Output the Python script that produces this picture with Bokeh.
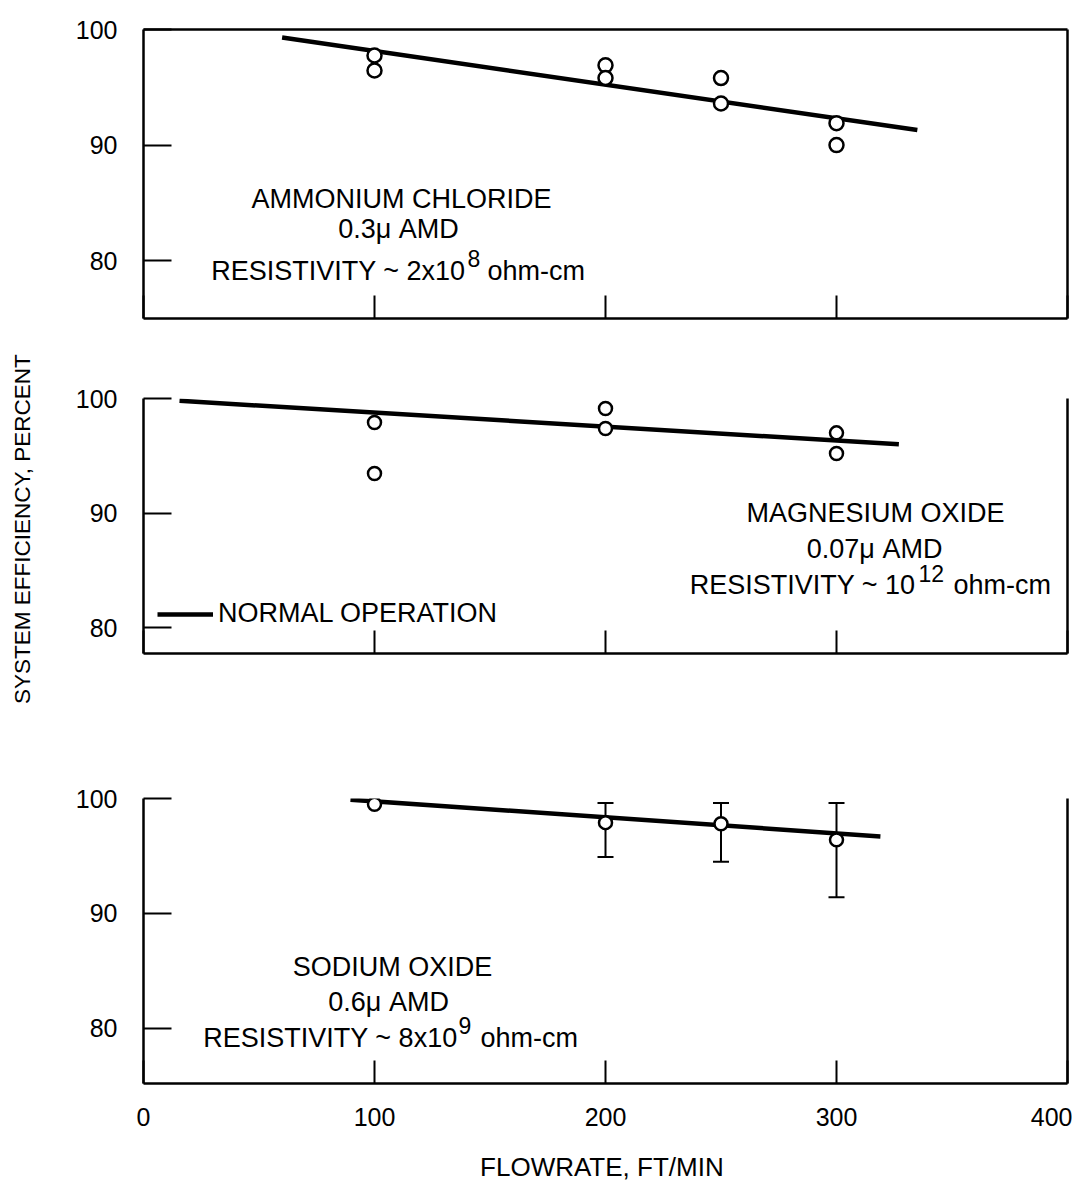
from bokeh.plotting import figure
from bokeh.models import Range1d, FixedTicker, LinearAxis, Label, Whisker, TeeHead, ColumnDataSource, Legend, LegendItem
from bokeh.layouts import column
from bokeh.embed import file_html
from bokeh.resources import INLINE

FONT = "Liberation Sans"

# ---------------- data ----------------
flow_ticks = [0, 100, 200, 300, 400]
eff_ticks = [80, 90, 100]

# Ammonium chloride
nh4_x = [100, 100, 200, 200, 250, 250, 300, 300]
nh4_y = [97.75, 96.45, 96.9, 95.8, 95.8, 93.6, 91.9, 90.0]
nh4_fit_x = [60, 335]
nh4_fit_y = [99.3, 91.3]

# Magnesium oxide
mgo_x = [100, 100, 200, 200, 300, 300]
mgo_y = [97.9, 93.45, 99.13, 97.38, 97.0, 95.2]
mgo_fit_x = [15.6, 327]
mgo_fit_y = [99.8, 96.0]

# Sodium oxide
na_x = [100, 200, 250, 300]
na_y = [99.5, 97.9, 97.8, 96.4]
na_err_x = [200, 250, 300]
na_err_hi = [99.6, 99.6, 99.6]
na_err_lo = [94.9, 94.5, 91.4]
na_fit_x = [89.6, 319]
na_fit_y = [99.9, 96.7]


def make_fig(y_lo, frame_h, top_b, bottom_b, show_x, top_line):
    p = figure(frame_width=924, frame_height=frame_h,
               x_range=Range1d(0, 400), y_range=Range1d(y_lo, 100),
               output_backend="svg", toolbar_location=None,
               min_border_left=143, min_border_right=5,
               min_border_top=top_b, min_border_bottom=bottom_b,
               background_fill_color="white", border_fill_color="white",
               outline_line_color=None)
    p.grid.visible = False
    xa = p.xaxis[0]
    xa.ticker = FixedTicker(ticks=flow_ticks)
    xa.major_tick_in = 23
    xa.major_tick_out = 0
    xa.minor_tick_line_color = None
    xa.axis_line_width = 2.5
    xa.major_tick_line_width = 2
    xa.axis_line_color = "black"
    xa.major_tick_line_color = "black"
    if show_x:
        xa.major_label_text_font = FONT
        xa.major_label_text_font_size = "25px"
        xa.major_label_text_color = "black"
        xa.major_label_standoff = 24
        xa.axis_label = "FLOWRATE,  FT/MIN"
        xa.axis_label_text_font = FONT
        xa.axis_label_text_font_size = "26px"
        xa.axis_label_text_font_style = "normal"
        xa.axis_label_text_color = "black"
        xa.axis_label_standoff = 23
    else:
        xa.major_label_text_font_size = "1px"
        xa.major_label_text_color = None
        xa.major_label_standoff = 0
    ya = p.yaxis[0]
    ya.ticker = FixedTicker(ticks=eff_ticks)
    ya.major_tick_in = 28
    ya.major_tick_out = 0
    ya.minor_tick_line_color = None
    ya.axis_line_width = 2.5
    ya.major_tick_line_width = 2
    ya.axis_line_color = "black"
    ya.major_tick_line_color = "black"
    ya.major_label_text_font = FONT
    ya.major_label_text_font_size = "25px"
    ya.major_label_text_color = "black"
    ya.major_label_standoff = 26
    ra = LinearAxis(ticker=FixedTicker(ticks=[]), major_label_text_font_size="1px",
                    major_label_text_color=None, major_tick_line_color=None,
                    minor_tick_line_color=None, axis_line_width=2.5, axis_line_color="black",
                    major_label_standoff=0)
    p.add_layout(ra, "right")
    if top_line:
        ta = LinearAxis(ticker=FixedTicker(ticks=[]), major_label_text_font_size="1px",
                        major_label_text_color=None, major_tick_line_color=None,
                        minor_tick_line_color=None, axis_line_width=2.5, axis_line_color="black",
                        major_label_standoff=0)
        p.add_layout(ta, "above")
    return p


def lab(p, x, y, text, size=27, align="left", baseline="alphabetic"):
    p.add_layout(Label(x=x, y=y, text=text, text_font=FONT, text_font_size=f"{size}px",
                       text_align=align, text_baseline=baseline, text_color="black"))


def points(p, xs, ys, size=13):
    p.scatter(xs, ys, marker="circle", size=size, fill_color="white",
              line_color="black", line_width=2.5)


# ---------------- top panel ----------------
p1 = make_fig(75, 289, 29, 20, False, True)
p1.line(nh4_fit_x, nh4_fit_y, line_width=4.5, color="black")
points(p1, nh4_x, nh4_y, 14)
lab(p1, 111.7, 85.3, "AMMONIUM CHLORIDE", align="center")
lab(p1, 110.4, 82.7, "0.3\u03bc AMD", align="center")
lab(p1, 139.4, 79.07, "RESISTIVITY ~ 2x10", align="right")
lab(p1, 140.3, 80.2, "8", size=23)
lab(p1, 148.9, 79.07, "ohm-cm")

# ---------------- middle panel ----------------
p2 = make_fig(77.73, 255, 60, 60, False, False)
mline = p2.line(mgo_fit_x, mgo_fit_y, line_width=4.5, color="black")
points(p2, mgo_x, mgo_y)
lab(p2, 316.9, 90.04, "MAGNESIUM OXIDE", align="center")
lab(p2, 316.5, 86.9, "0.07\u03bc AMD", align="center")
lab(p2, 334.2, 83.67, "RESISTIVITY ~ 10", align="right")
lab(p2, 335.5, 84.72, "12", size=23)
lab(p2, 350.6, 83.67, "ohm-cm")
ya2 = p2.yaxis[0]
ya2.axis_label = "SYSTEM EFFICIENCY,  PERCENT"
ya2.axis_label_text_font = FONT
ya2.axis_label_text_font_size = "22.5px"
ya2.axis_label_text_font_style = "normal"
ya2.axis_label_text_color = "black"
ya2.axis_label_standoff = 38
leg = Legend(items=[LegendItem(label="NORMAL OPERATION", renderers=[mline])],
             location=(14, 24), glyph_width=56, glyph_height=20, label_standoff=5,
             padding=0, margin=0, spacing=0, border_line_color=None,
             background_fill_alpha=0, label_text_font=FONT,
             label_text_font_size="27px", label_text_color="black")
p2.add_layout(leg, "center")

# ---------------- bottom panel ----------------
p3 = make_fig(75.2, 285, 85, 95, True, False)
p3.line(na_fit_x, na_fit_y, line_width=4.5, color="black")
err_src = ColumnDataSource(dict(x=na_err_x, hi=na_err_hi, lo=na_err_lo))
wh = Whisker(source=err_src, base="x", upper="hi", lower="lo", line_width=2, line_color="black",
             upper_head=TeeHead(size=16, line_width=2, line_color="black"),
             lower_head=TeeHead(size=16, line_width=2, line_color="black"),
             level="underlay")
p3.add_layout(wh)
points(p3, na_x, na_y)
lab(p3, 107.8, 85.3, "SODIUM OXIDE", align="center")
lab(p3, 106.1, 82.26, "0.6\u03bc AMD", align="center")
lab(p3, 136.0, 79.13, "RESISTIVITY ~ 8x10", align="right")
lab(p3, 136.4, 80.26, "9", size=23)
lab(p3, 145.9, 79.13, "ohm-cm")

layout = column(p1, p2, p3, spacing=0)
open("out.html", "w").write(file_html(layout, INLINE))
